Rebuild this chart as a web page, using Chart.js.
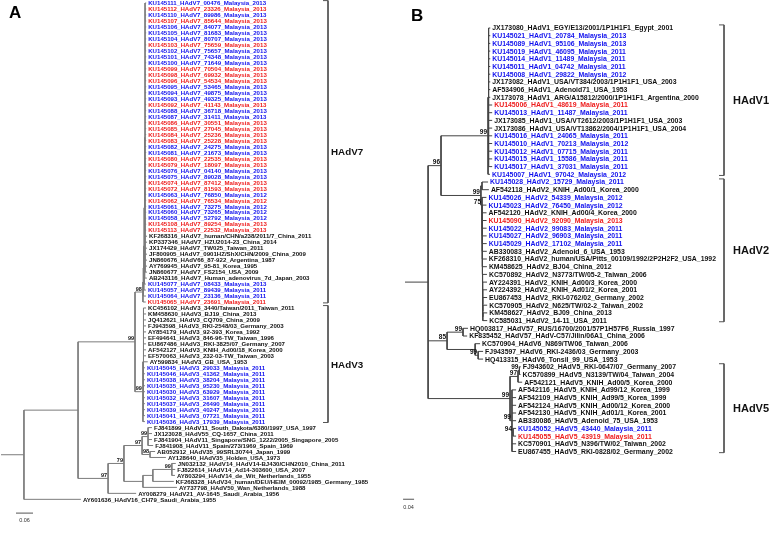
<!DOCTYPE html>
<html>
<head>
<meta charset="utf-8">
<script src="https://cdn.jsdelivr.net/npm/chart.js@4.4.1/dist/chart.umd.min.js"></script>
<style>
  html, body { margin: 0; padding: 0; background: #fff; }
  #wrap { position: relative; width: 782px; height: 540px; overflow: hidden; background: #fff; }
  canvas { position: absolute; top: 0; }
  #treeA { left: 0; }
  #treeB { left: 391px; }
</style>
</head>
<body>
<div id="wrap">
  <canvas id="treeA" width="391" height="540"></canvas>
  <canvas id="treeB" width="391" height="540"></canvas>
</div>
<script>
// ---- Panel A: tips (top to bottom), tip colours (b = blue, r = red, k = black) ----
const tipsA = [
  'KU145111_HAdV7_00476_Malaysia_2013', 'KU145112_HAdV7_23326_Malaysia_2013',
  'KU145110_HAdV7_89986_Malaysia_2013', 'KU145107_HAdV7_85644_Malaysia_2013',
  'KU145106_HAdV7_84077_Malaysia_2013', 'KU145105_HAdV7_81683_Malaysia_2013',
  'KU145104_HAdV7_80707_Malaysia_2013', 'KU145103_HAdV7_75659_Malaysia_2013',
  'KU145102_HAdV7_75657_Malaysia_2013', 'KU145101_HAdV7_74348_Malaysia_2013',
  'KU145100_HAdV7_71649_Malaysia_2013', 'KU145099_HAdV7_70504_Malaysia_2013',
  'KU145098_HAdV7_69932_Malaysia_2013', 'KU145096_HAdV7_54534_Malaysia_2013',
  'KU145095_HAdV7_53465_Malaysia_2013', 'KU145094_HAdV7_49875_Malaysia_2013',
  'KU145093_HAdV7_49325_Malaysia_2013', 'KU145092_HAdV7_41143_Malaysia_2013',
  'KU145088_HAdV7_36718_Malaysia_2013', 'KU145087_HAdV7_31411_Malaysia_2013',
  'KU145086_HAdV7_30551_Malaysia_2013', 'KU145085_HAdV7_27045_Malaysia_2013',
  'KU145084_HAdV7_25236_Malaysia_2013', 'KU145083_HAdV7_25228_Malaysia_2013',
  'KU145082_HAdV7_24275_Malaysia_2013', 'KU145081_HAdV7_21673_Malaysia_2013',
  'KU145080_HAdV7_22535_Malaysia_2013', 'KU145079_HAdV7_18097_Malaysia_2013',
  'KU145076_HAdV7_04140_Malaysia_2013', 'KU145075_HAdV7_89028_Malaysia_2013',
  'KU145074_HAdV7_87412_Malaysia_2013', 'KU145072_HAdV7_81593_Malaysia_2013',
  'KU145063_HAdV7_76850_Malaysia_2012', 'KU145062_HAdV7_76534_Malaysia_2012',
  'KU145061_HAdV7_73275_Malaysia_2012', 'KU145060_HAdV7_73265_Malaysia_2012',
  'KU145058_HAdV7_52792_Malaysia_2012', 'KU145108_HAdV7_89254_Malaysia_2013',
  'KU145113_HAdV7_22532_Malaysia_2013',
  'KF268316_HAdV7_human/CHN/a238/2011/7_China_2011',
  'KP337346_HAdV7_HZU2014-23_China_2014',
  'JX174429_HAdV7_TW025_Taiwan_2011',
  'JF800905_HAdV7_0901HZ/ShX/CHN/2009_China_2009',
  'JN860676_HAdV66_87-922_Argentina_1987',
  'AY769945_HAdV7_95-81_Korea_1995',
  'JN860677_HAdV7_FS2154_USA_2009',
  'AB243116_HAdV7_Human_adenovirus_7d_Japan_2003',
  'KU145077_HAdV7_08433_Malaysia_2013', 'KU145057_HAdV7_89439_Malaysia_2011',
  'KU145064_HAdV7_23136_Malaysia_2011', 'KU145065_HAdV7_23691_Malaysia_2011',
  'KC456102_HAdV3_3440/Taiwan/2011_Taiwan_2011',
  'KM458630_HAdV3_BJ19_China_2013',
  'JQ412621_HAdV3_CQ709_China_2009',
  'FJ943598_HAdV3_RKI-2548/03_Germany_2003',
  'AY854179_HAdV3_92-393_Korea_1992',
  'EF494641_HAdV3_846-96-TW_Taiwan_1996',
  'EU867486_HAdV3_RKI-3825/07_Germany_2007',
  'AF542127_HAdV3_KNIH_Ad00/18_Korea_2000',
  'EF570063_HAdV3_232-03-TW_Taiwan_2003',
  'AY599834_HAdV3_GB_USA_1953',
  'KU145045_HAdV3_29033_Malaysia_2011', 'KU145046_HAdV3_41362_Malaysia_2011',
  'KU145038_HAdV3_38204_Malaysia_2011', 'KU145035_HAdV3_95230_Malaysia_2011',
  'KU145030_HAdV3_63929_Malaysia_2011', 'KU145032_HAdV3_31607_Malaysia_2011',
  'KU145037_HAdV3_26490_Malaysia_2011', 'KU145039_HAdV3_40247_Malaysia_2011',
  'KU145041_HAdV3_07721_Malaysia_2011', 'KU145036_HAdV3_17939_Malaysia_2011',
  'FJ841899_HAdV11_South_Dakota/6380/1997_USA_1997',
  'JX123028_HAdV55_CQ-1657_China_2011',
  'FJ841904_HAdV11_Singapore/SNG_1222/2005_Singapore_2005',
  'FJ841908_HAdV11_Spain/273/1969_Spain_1969',
  'AB052912_HAdV35_99SRL30744_Japan_1999',
  'AY128640_HAdV35_Holden_USA_1973',
  'JN032132_HAdV14_HAdV14-BJ430/CHN2010_China_2011',
  'FJ822614_HAdV14_Ad14-303600_USA_2007',
  'AY803294_HAdV14_de_Wit_Netherlands_1955',
  'KF268328_HAdV34_human/DEU/HEIM_00092/1985_Germany_1985',
  'AY737798_HAdV50_Wan_Netherlands_1988',
  'AY008279_HAdV21_AV-1645_Saudi_Arabia_1956',
  'AY601636_HAdV16_CH79_Saudi_Arabia_1955'
];
const tipColoursA = 'brbrbbbrbbbrrrbbbrbbrrrrbbrrbbrrbrbbbrr' + 'kkkkkkkk' + 'bbbr' +
  'kkkkkkkkkk' + 'bbbbbbbbbb' + 'kkkkkkkkkkkkk';

// Newick topology, leaves are indices into tipsA, branch lengths in substitutions/site
const hadv7A = '(((((' +
  '(0:.004,1:.004,2:.004,3:.004,4:.004,5:.004,6:.004,7:.004,8:.004,9:.004,10:.004,11:.004,' +
  '12:.004,13:.004,14:.004,15:.004,16:.004,17:.004,18:.004,19:.004,20:.004,21:.004,22:.004,' +
  '23:.004,24:.004,25:.004,26:.004,27:.004,28:.004,29:.004,30:.004,31:.004,32:.004,33:.004,' +
  '34:.004,35:.004,36:.004,37:.004,38:.004,39:.007,40:.007,41:.007,42:.007,43:.007,44:.007,45:.007)' +
  ':.0015,46:.008):.0015,47:.006):.0015,48:.0075):.0015,49:.009):.0015,50:.010)98:.028';
const hadv3A = '((51:.009,52:.009,53:.009,54:.009,55:.009,56:.009,57:.009,58:.009,59:.009,60:.015,' +
  '61:.005,62:.005,63:.005,64:.005,65:.005,66:.005,67:.005,68:.005,69:.005):.002,70:.007)99:.028';
const newickA = '(((' + hadv7A + ',' + hadv3A + ')99:.201,' +
  '((((71:.014,72:.014,73:.014,74:.018)99:.021,(75:.018,76:.056)98:.028)97:.064,' +
  '(((77:.014,78:.012,79:.011)99:.067,80:.074):.035,81:.12):.067)79:.056,82:.099)97:.106):.191,' +
  '83:.201):.081';

const cladeNamesA = ['HAdV7', 'HAdV3'];
const cladeFirstA = [0, 51];
const cladeLastA = [50, 70];

// ---- Panel B ----
const tipsB = [
  'JX173080_HAdV1_EGY/E13/2001/1P1H1F1_Egypt_2001',
  'KU145021_HAdV1_20784_Malaysia_2013', 'KU145089_HAdV1_95106_Malaysia_2013',
  'KU145019_HAdV1_46095_Malaysia_2011', 'KU145014_HAdV1_11489_Malaysia_2011',
  'KU145011_HAdV1_04742_Malaysia_2011', 'KU145008_HAdV1_29822_Malaysia_2012',
  'JX173082_HAdV1_USA/VT384/2003/1P1H1F1_USA_2003',
  'AF534906_HAdV1_Adenoid71_USA_1953',
  'JX173078_HAdV1_ARG/A15812/2000/1P1H1F1_Argentina_2000',
  'KU145006_HAdV1_48619_Malaysia_2011', 'KU145013_HAdV1_11487_Malaysia_2011',
  'JX173085_HAdV1_USA/VT2612/2003/1P1H1F1_USA_2003',
  'JX173086_HAdV1_USA/VT13862/2004/1P1H1F1_USA_2004',
  'KU145016_HAdV1_24065_Malaysia_2011', 'KU145010_HAdV1_70213_Malaysia_2012',
  'KU145012_HAdV1_07715_Malaysia_2011', 'KU145015_HAdV1_15586_Malaysia_2011',
  'KU145017_HAdV1_37031_Malaysia_2011', 'KU145007_HAdV1_97042_Malaysia_2012',
  'KU145028_HAdV2_15729_Malaysia_2011',
  'AF542118_HAdV2_KNIH_Ad00/1_Korea_2000',
  'KU145026_HAdV2_54339_Malaysia_2012', 'KU145023_HAdV2_76450_Malaysia_2012',
  'AF542120_HAdV2_KNIH_Ad00/4_Korea_2000',
  'KU145090_HAdV2_92090_Malaysia_2013', 'KU145022_HAdV2_99083_Malaysia_2011',
  'KU145027_HAdV2_96903_Malaysia_2011', 'KU145029_HAdV2_17102_Malaysia_2011',
  'AB330083_HAdV2_Adenoid_6_USA_1953',
  'KF268310_HAdV2_human/USA/Pitts_00109/1992/2P2H2F2_USA_1992',
  'KM458625_HAdV2_BJ04_China_2012',
  'KC570892_HAdV2_N3773/TW/05-2_Taiwan_2006',
  'AY224391_HAdV2_KNIH_Ad00/3_Korea_2000',
  'AY224392_HAdV2_KNIH_Ad01/2_Korea_2001',
  'EU867453_HAdV2_RKI-0762/02_Germany_2002',
  'KC570905_HAdV2_N625/TW/02-2_Taiwan_2002',
  'KM458627_HAdV2_BJ09_China_2013',
  'KC585031_HAdV2_14-11_USA_2011',
  'HQ003817_HAdV57_RUS/16700/2001/57P1H57F6_Russia_1997',
  'KF835452_HAdV57_HAdV-C57/Jilin/06A1_China_2006',
  'KC570904_HAdV6_N869/TW06_Taiwan_2006',
  'FJ943597_HAdV6_RKI-2436/03_Germany_2003',
  'HQ413315_HAdV6_Tonsil_99_USA_1953',
  'FJ943602_HAdV5_RKI-0647/07_Germany_2007',
  'KC570899_HAdV5_N3139/TW/04_Taiwan_2004',
  'AF542121_HAdV5_KNIH_Ad00/5_Korea_2000',
  'AF542116_HAdV5_KNIH_Ad99/12_Korea_1999',
  'AF542109_HAdV5_KNIH_Ad99/5_Korea_1999',
  'AF542124_HAdV5_KNIH_Ad00/12_Korea_2000',
  'AF542130_HAdV5_KNIH_Ad01/1_Korea_2001',
  'AB330086_HAdV5_Adenoid_75_USA_1953',
  'KU145052_HAdV5_43440_Malaysia_2011', 'KU145055_HAdV5_43919_Malaysia_2011',
  'KC570901_HAdV5_N396/TW/02_Taiwan_2002',
  'EU867455_HAdV5_RKI-0828/02_Germany_2002'
];
const tipColoursB = 'k' + 'bbbbbb' + 'kkk' + 'r' + 'b' + 'kk' + 'bbbbbbb' + 'k' + 'bb' + 'k' + 'r' + 'bbb' +
  'kkkkkkkkkkkkkkkkkkkkkkk' + 'b' + 'r' + 'kk';

const hadv1B = '((0:.006,1:.006,2:.006,3:.006,4:.006,5:.006,6:.006,7:.006,8:.006,9:.006,' +
  '10:.013,11:.013,12:.013,13:.013,14:.013,15:.013,16:.013,17:.013,18:.013):.002,19:.007)99:.171';
const hadv2B = '((20:.022,21:.025):.004,' +
  '(22:.016,(23:.016,(24:.016,(25:.016,(26:.016,(27:.016,(28:.016,(29:.016,(30:.016,(31:.016,' +
  '(32:.016,(33:.016,(34:.016,(35:.016,(36:.016,(37:.016,38:.016' +
  '):.0002):.0002):.0002):.0002):.0002' +
  '):.0002):.0002):.0002):.0002):.0002' +
  '):.0002):.0002):.0002):.0002):.0002' +
  ')75:.004)99:.145';
const hadvC57_6B = '((39:.018,40:.015)99:.058,(41:.018,(42:.018,43:.018)99:.011):.102)85:.069';
const hadv5B = '(((44:.005,45:.004)99:.005,46:.015)97:.029,' +
  '(47:.015,48:.015,49:.015,50:.015,51:.015,(52:.011,53:.011)94:.004,54:.015,55:.015)99:.007)99:.298';
const newickB = '((' + hadv1B + ',' + hadv2B + ')96:.047,' + hadvC57_6B + ',' + hadv5B + '):.084';

const cladeNamesB = ['HAdV1', 'HAdV2', 'HAdV5'];
const cladeFirstB = [0, 20, 44];
const cladeLastB = [19, 38, 55];

const palette = { b: '#1212ee', r: '#ee1c1c', k: '#111111' };
const fontFamily = "'Liberation Sans', Arial, sans-serif";

function parseNewick(text) {
  const s = text.replace(/\s+/g, '');
  let i = 0;
  function readNode() {
    const node = { children: [], label: '', length: 0 };
    if (s[i] === '(') {
      i += 1;
      node.children.push(readNode());
      while (s[i] === ',') {
        i += 1;
        node.children.push(readNode());
      }
      i += 1; // closing bracket
    }
    let token = '';
    while (i < s.length && !',():'.includes(s[i])) token += s[i++];
    node.label = token;
    if (s[i] === ':') {
      i += 1;
      let num = '';
      while (i < s.length && !',()'.includes(s[i])) num += s[i++];
      node.length = parseFloat(num);
    }
    return node;
  }
  return readNode();
}

function layoutTree(root) {
  const tips = [];
  const inner = [];
  let row = 0;
  (function walk(node, parentX) {
    node.x = parentX + node.length;
    if (!node.children.length) {
      node.y = row;
      node.id = Number(node.label);
      row += 1;
      tips.push(node);
      return;
    }
    node.children.forEach((child) => walk(child, node.x));
    node.y = (node.children[0].y + node.children[node.children.length - 1].y) / 2;
    inner.push(node);
  })(root, 0);
  return { root, tips, inner };
}

function textPlugin(panel, tree) {
  return {
    id: 'treeText' + panel.letter,
    afterDatasetsDraw(chart) {
      const { ctx } = chart;
      const xs = chart.scales.x;
      const ys = chart.scales.y;
      ctx.save();

      ctx.font = panel.tipFont;
      ctx.textAlign = 'left';
      ctx.textBaseline = 'middle';
      tree.tips.forEach((tip) => {
        ctx.fillStyle = palette[panel.colours.charAt(tip.id)];
        ctx.fillText(panel.names[tip.id], xs.getPixelForValue(tip.x) + 2, ys.getPixelForValue(tip.y) + 0.5);
      });

      ctx.font = panel.bootFont;
      ctx.fillStyle = '#111';
      ctx.textAlign = 'right';
      ctx.textBaseline = 'alphabetic';
      tree.inner.forEach((node) => {
        if (!node.label) return;
        ctx.fillText(node.label, xs.getPixelForValue(node.x) - 1, ys.getPixelForValue(node.y) - 1.5);
      });

      ctx.font = panel.cladeFont;
      ctx.textAlign = 'left';
      ctx.textBaseline = 'middle';
      panel.cladeNames.forEach((name, k) => {
        const mid = (panel.cladeFirst[k] + panel.cladeLast[k]) / 2;
        ctx.fillText(name, panel.bracketPx + panel.cladeGap, ys.getPixelForValue(mid));
      });

      ctx.font = '5.5px ' + fontFamily;
      ctx.fillStyle = '#333';
      ctx.textAlign = 'center';
      ctx.textBaseline = 'top';
      ctx.fillText(panel.barText, xs.getPixelForValue(panel.barStart + panel.barLength / 2),
        ys.getPixelForValue(panel.barRow) + 5);

      ctx.font = 'bold 17px ' + fontFamily;
      ctx.fillStyle = '#000';
      ctx.textAlign = 'left';
      ctx.textBaseline = 'alphabetic';
      ctx.fillText(panel.letter, panel.letterPos[0], panel.letterPos[1]);
      ctx.restore();
    }
  };
}

function drawPanel(panel) {
  const canvas = document.getElementById(panel.canvas);
  const tree = layoutTree(parseNewick(panel.newick));
  const root = tree.root;

  const branchPoints = [];
  const segment = (list, x1, y1, x2, y2) => {
    list.push({ x: x1, y: y1 }, { x: x2, y: y2 }, { x: x2, y: null });
  };
  segment(branchPoints, 0, root.y, root.x, root.y);
  tree.inner.forEach((node) => {
    const first = node.children[0];
    const last = node.children[node.children.length - 1];
    segment(branchPoints, node.x, first.y, node.x, last.y);
    node.children.forEach((child) => segment(branchPoints, node.x, child.y, child.x, child.y));
  });

  const bracketX = (panel.bracketPx - panel.originPx) / panel.unitPx;
  const tick = 5 / panel.unitPx;
  const bracketPoints = [];
  panel.cladeFirst.forEach((first, k) => {
    const top = first - 0.4;
    const bottom = panel.cladeLast[k] + 0.15;
    bracketPoints.push(
      { x: bracketX - tick, y: top }, { x: bracketX, y: top },
      { x: bracketX, y: bottom }, { x: bracketX - tick, y: bottom },
      { x: bracketX - tick, y: null }
    );
  });

  const barPoints = [
    { x: panel.barStart, y: panel.barRow },
    { x: panel.barStart + panel.barLength, y: panel.barRow }
  ];

  const lineStyle = { showLine: true, pointRadius: 0, borderWidth: 1, spanGaps: false, clip: false, tension: 0 };

  new Chart(canvas, {
    type: 'scatter',
    data: {
      datasets: [
        { ...lineStyle, data: branchPoints, borderColor: panel.lineColour },
        { ...lineStyle, data: bracketPoints, borderColor: '#555' },
        { ...lineStyle, data: barPoints, borderColor: '#555' }
      ]
    },
    options: {
      animation: false,
      responsive: false,
      devicePixelRatio: 1,
      events: [],
      layout: { padding: 0 },
      scales: {
        x: {
          type: 'linear', display: false,
          min: -panel.originPx / panel.unitPx,
          max: (canvas.width - panel.originPx) / panel.unitPx
        },
        y: {
          type: 'linear', display: false, reverse: true,
          min: -panel.topPx / panel.rowPx,
          max: (canvas.height - panel.topPx) / panel.rowPx
        }
      },
      plugins: { legend: { display: false }, tooltip: { enabled: false } }
    },
    plugins: [textPlugin(panel, tree)]
  });
}

drawPanel({
  canvas: 'treeA', letter: 'A', letterPos: [9, 18],
  newick: newickA, names: tipsA, colours: tipColoursA,
  cladeNames: cladeNamesA, cladeFirst: cladeFirstA, cladeLast: cladeLastA,
  unitPx: 283.3, originPx: 1, topPx: 3, rowPx: 5.98,
  tipFont: 'bold 6.1px ' + fontFamily, bootFont: 'bold 5.5px ' + fontFamily,
  cladeFont: 'bold 9.8px ' + fontFamily, bracketPx: 328, cladeGap: 3,
  lineColour: '#7c7c7c',
  barText: '0.06', barStart: 0.053, barLength: 0.06, barRow: 85.3
});

drawPanel({
  canvas: 'treeB', letter: 'B', letterPos: [20, 21],
  newick: newickB, names: tipsB, colours: tipColoursB,
  cladeNames: cladeNamesB, cladeFirst: cladeFirstB, cladeLast: cladeLastB,
  unitPx: 275, originPx: 14, topPx: 28, rowPx: 7.7,
  tipFont: 'bold 6.9px ' + fontFamily, bootFont: 'bold 6.5px ' + fontFamily,
  cladeFont: 'bold 11px ' + fontFamily, bracketPx: 333, cladeGap: 9,
  lineColour: '#444',
  barText: '0.04', barStart: -0.007, barLength: 0.04, barRow: 61.2
});
</script>
</body>
</html>
